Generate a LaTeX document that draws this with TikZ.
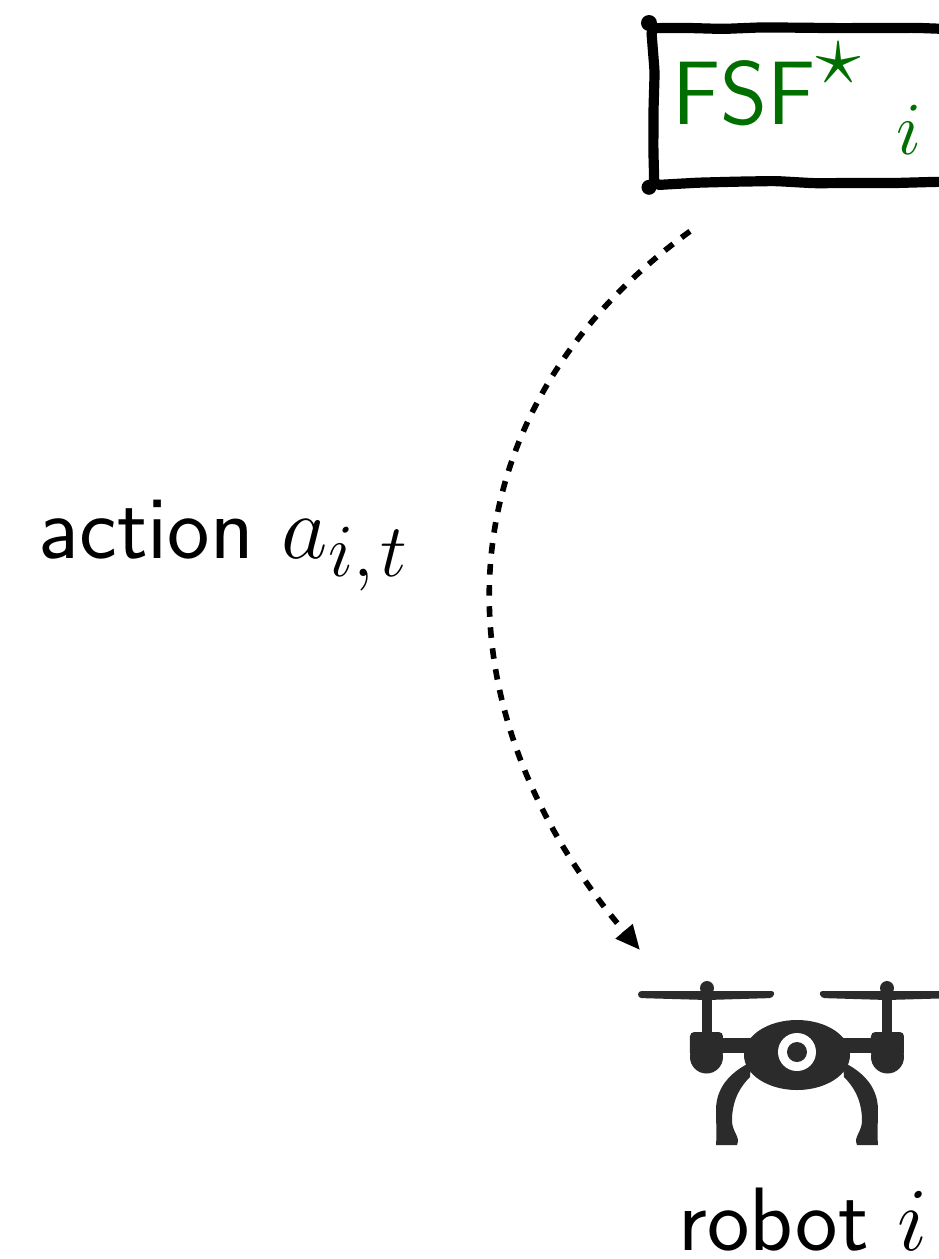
\documentclass[tikz,border=0pt]{standalone}
\usepackage{amsmath,amssymb}
\usetikzlibrary{positioning,calc,arrows.meta,decorations.pathmorphing}
\definecolor{fsfgreen}{HTML}{006F00}
\definecolor{dronegray}{HTML}{2B2B2B}
\begin{document}
\begin{tikzpicture}[x=0.01cm,y=-0.01cm,font=\sffamily\Huge]
\tikzset{
  fsfbox/.style={draw=black, fill=white, line width=2.9pt, line join=round, rounded corners=1.5pt, minimum width=5cm, minimum height=1.54cm, inner sep=0pt, decorate, decoration={random steps, segment length=11pt, amplitude=0.35pt}},
  flow/.style={draw=black, line width=1.6pt, dash pattern=on 3pt off 3pt, -{Triangle[length=7pt,width=6pt]}},
  dronepart/.style={fill=dronegray, draw=none},
  txt/.style={anchor=base west, inner sep=0pt, scale=1.03}
}
\useasboundingbox (0,0) rectangle (938,1259);
\node[fsfbox, anchor=north west] (fsf) at (649,23) {};
\fill (fsf.north west) circle (8);
\fill (fsf.south west) circle (7.5);
\node[txt, text=fsfgreen] (fsftext) at (672,124) {FSF$^{\raisebox{2pt}{$\textstyle\star$}}{}_{\raisebox{-4.8pt}{$\scriptstyle\hspace{0.38em}i$}}$};
\coordinate (drone) at (797,1052);
% drone icon
\foreach \s in {-1,1} {
  \begin{scope}[shift={(drone)}, xscale=\s]
    \fill[dronepart, rounded corners=1pt] (22,-61) -- (159,-61) -- (159,-54) -- (90,-52) -- (24,-54) -- cycle;
    \fill[dronepart] (90,-64) circle (7);
    \fill[dronepart] (85,-64) rectangle (95,-15);
    \fill[dronepart, rounded corners=1.2pt] (74,-20) rectangle (107,5);
    \fill[dronepart] (90.5,5) circle (16.5);
    \fill[dronepart] (30,-14) rectangle (80,1);
    \fill[dronepart] (46,10) .. controls (62,18) and (81,32) .. (81,58) .. controls (81,72) and (80,80) .. (81,93) -- (60,93) .. controls (56,84) and (66,80) .. (65,66) .. controls (64,46) and (56,34) .. (47,25) -- cycle;
  \end{scope}
}
\fill[dronepart] ($(drone)+(0,3)$) ellipse (53 and 35);
\fill[white] (drone) circle (19);
\fill[dronepart] (drone) circle (10);
\node[txt] (robot) at (678,1250) {robot $i$};
\node[txt] (action) at (38,558) {action $a_{i,\hspace{0.08em}t}$};
\coordinate (flowstart) at ($(fsf.south west)+(41,44)$);
\coordinate (flowend) at ($(drone)+(-157,-102)$);
\draw[flow] (flowstart) .. controls (443,410) and (427,700) .. (flowend);
\end{tikzpicture}
\end{document}
